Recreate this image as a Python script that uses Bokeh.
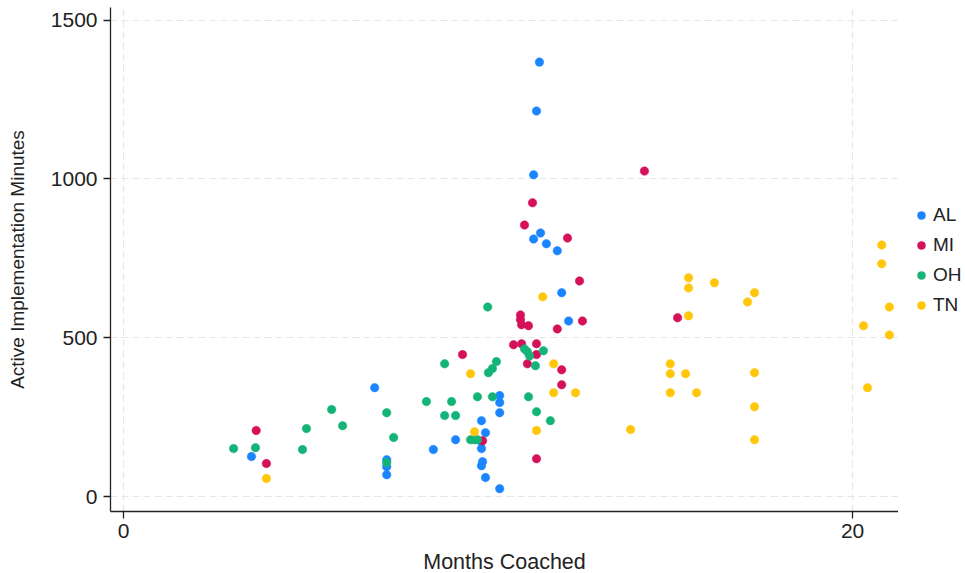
from bokeh.plotting import figure
from bokeh.layouts import row
from bokeh.models import Range1d, FixedTicker, Legend, LegendItem, ColumnDataSource
from bokeh.embed import file_html
from bokeh.resources import INLINE

# ---- data (months coached, active implementation minutes) ----
al_months = [11.41, 11.33, 11.25, 11.44, 11.25, 11.60, 11.90, 12.02, 12.21, 6.89,
             7.22, 7.22, 7.22, 3.51, 8.50, 9.11, 10.32, 10.32, 10.32, 9.82,
             9.93, 9.82, 9.82, 9.85, 9.82, 9.93, 10.32]
al_minutes = [1368, 1214, 1013, 830, 811, 796, 774, 642, 553, 343,
              116, 94, 69, 126, 148, 179, 318, 296, 264, 239,
              201, 173, 151, 110, 97, 60, 25]

mi_months = [14.29, 11.22, 11.00, 12.18, 12.51, 10.89, 10.89, 10.92, 11.11, 11.90,
             12.59, 10.70, 10.92, 11.33, 11.33, 11.08, 12.02, 12.02, 11.33, 9.30,
             9.85, 3.64, 3.92, 15.20]
mi_minutes = [1025, 925, 855, 814, 679, 572, 557, 541, 538, 528,
              553, 478, 481, 481, 447, 418, 399, 352, 119, 447,
              176, 208, 104, 563]

oh_months = [3.02, 3.62, 4.91, 5.02, 5.71, 6.01, 7.22, 7.22, 7.41, 8.31,
             8.81, 8.81, 9.00, 9.11, 9.71, 10.12, 10.01, 10.12, 10.23, 9.99,
             11.00, 11.08, 11.14, 11.52, 11.30, 11.11, 11.33, 11.71, 9.52, 9.63,
             9.71]
oh_minutes = [151, 154, 148, 214, 274, 223, 264, 107, 186, 299,
              418, 255, 299, 255, 314, 314, 390, 403, 425, 597,
              465, 456, 443, 459, 412, 314, 267, 239, 179, 179,
              179]

tn_months = [3.92, 9.52, 9.63, 11.33, 11.80, 12.40, 11.50, 11.80, 13.91, 15.00,
             15.00, 15.42, 15.00, 15.72, 15.50, 15.50, 15.50, 16.21, 17.12, 17.31,
             17.31, 17.31, 17.31, 20.30, 20.41, 20.80, 20.80, 21.01, 21.01]
tn_minutes = [57, 387, 204, 208, 327, 327, 629, 418, 211, 418,
              387, 387, 327, 327, 689, 657, 569, 673, 613, 642,
              390, 283, 179, 538, 343, 792, 733, 597, 509]

states = ["AL", "MI", "OH", "TN"]
colors = ["#1A85FF", "#D41159", "#14B478", "#FFC60A"]
x_ticks = [0, 20]
y_ticks = [0, 500, 1000, 1500]

FONT = "Liberation Sans"
TXT = "#222222"

FW, FH = 788, 504
PH = 7 + FH + 60
p = figure(frame_width=FW, frame_height=FH, output_backend="svg", toolbar_location=None,
           x_range=Range1d(-0.357, 21.26), y_range=Range1d(-47, 1540),
           min_border_left=110, min_border_top=7, min_border_bottom=60,
           min_border_right=0)
p.outline_line_color = None
p.background_fill_color = "white"

series = [(al_months, al_minutes), (mi_months, mi_minutes),
          (oh_months, oh_minutes), (tn_months, tn_minutes)]
for (xs, ys), col in zip(series, colors):
    src = ColumnDataSource(dict(x=xs, y=ys))
    p.scatter("x", "y", source=src, size=8.5, fill_color=col, line_color=col,
              line_width=0.5)

for ax in (p.xaxis[0], p.yaxis[0]):
    ax.axis_line_color = "#222222"
    ax.axis_line_width = 1.3
    ax.major_tick_line_color = "#222222"
    ax.major_tick_line_width = 1.3
    ax.major_tick_in = 0
    ax.major_tick_out = 7
    ax.minor_tick_line_color = None
    ax.major_label_text_font = FONT
    ax.major_label_text_font_size = "21px"
    ax.major_label_text_color = TXT
    ax.axis_label_text_font = FONT
    ax.axis_label_text_font_style = "normal"
    ax.axis_label_text_color = TXT

p.xaxis.axis_label_text_font_size = "21.5px"
p.yaxis.axis_label_text_font_size = "19px"
p.xaxis.ticker = FixedTicker(ticks=x_ticks)
p.yaxis.ticker = FixedTicker(ticks=y_ticks)
p.xaxis.axis_label = "Months Coached"
p.yaxis.axis_label = "Active Implementation Minutes"
p.xaxis.major_label_standoff = 5
p.xaxis.axis_label_standoff = 9
p.yaxis.major_label_standoff = 6
p.yaxis.axis_label_standoff = 20

for g in (p.xgrid[0], p.ygrid[0]):
    g.grid_line_color = "#e6e6e6"
    g.grid_line_dash = "7 4"
    g.grid_line_width = 1.2

# ---- legend panel to the right of the plot ----
lg = figure(width=65, height=PH, output_backend="svg", toolbar_location=None,
            x_axis_location=None, y_axis_location=None,
            min_border_left=0, min_border_right=0, min_border_top=0,
            min_border_bottom=0, x_range=Range1d(0, 1), y_range=Range1d(0, 1))
lg.outline_line_color = None
lg.xgrid.visible = False
lg.ygrid.visible = False
items = []
for name, col in zip(states, colors):
    src = ColumnDataSource(dict(x=[float("nan")], y=[float("nan")]))
    r = lg.scatter("x", "y", source=src, size=8.5,
                   fill_color=col, line_color=col, line_width=0.5)
    items.append(LegendItem(label=name, renderers=[r]))
legend = Legend(items=items, location=(13, 190), border_line_color=None,
                background_fill_alpha=0, margin=0, padding=0,
                glyph_width=20, glyph_height=20, label_height=20,
                spacing=8, label_standoff=2,
                label_text_font=FONT, label_text_font_size="19px",
                label_text_color=TXT)
lg.add_layout(legend)

layout = row(p, lg)
open("out.html", "w").write(file_html(layout, INLINE))
